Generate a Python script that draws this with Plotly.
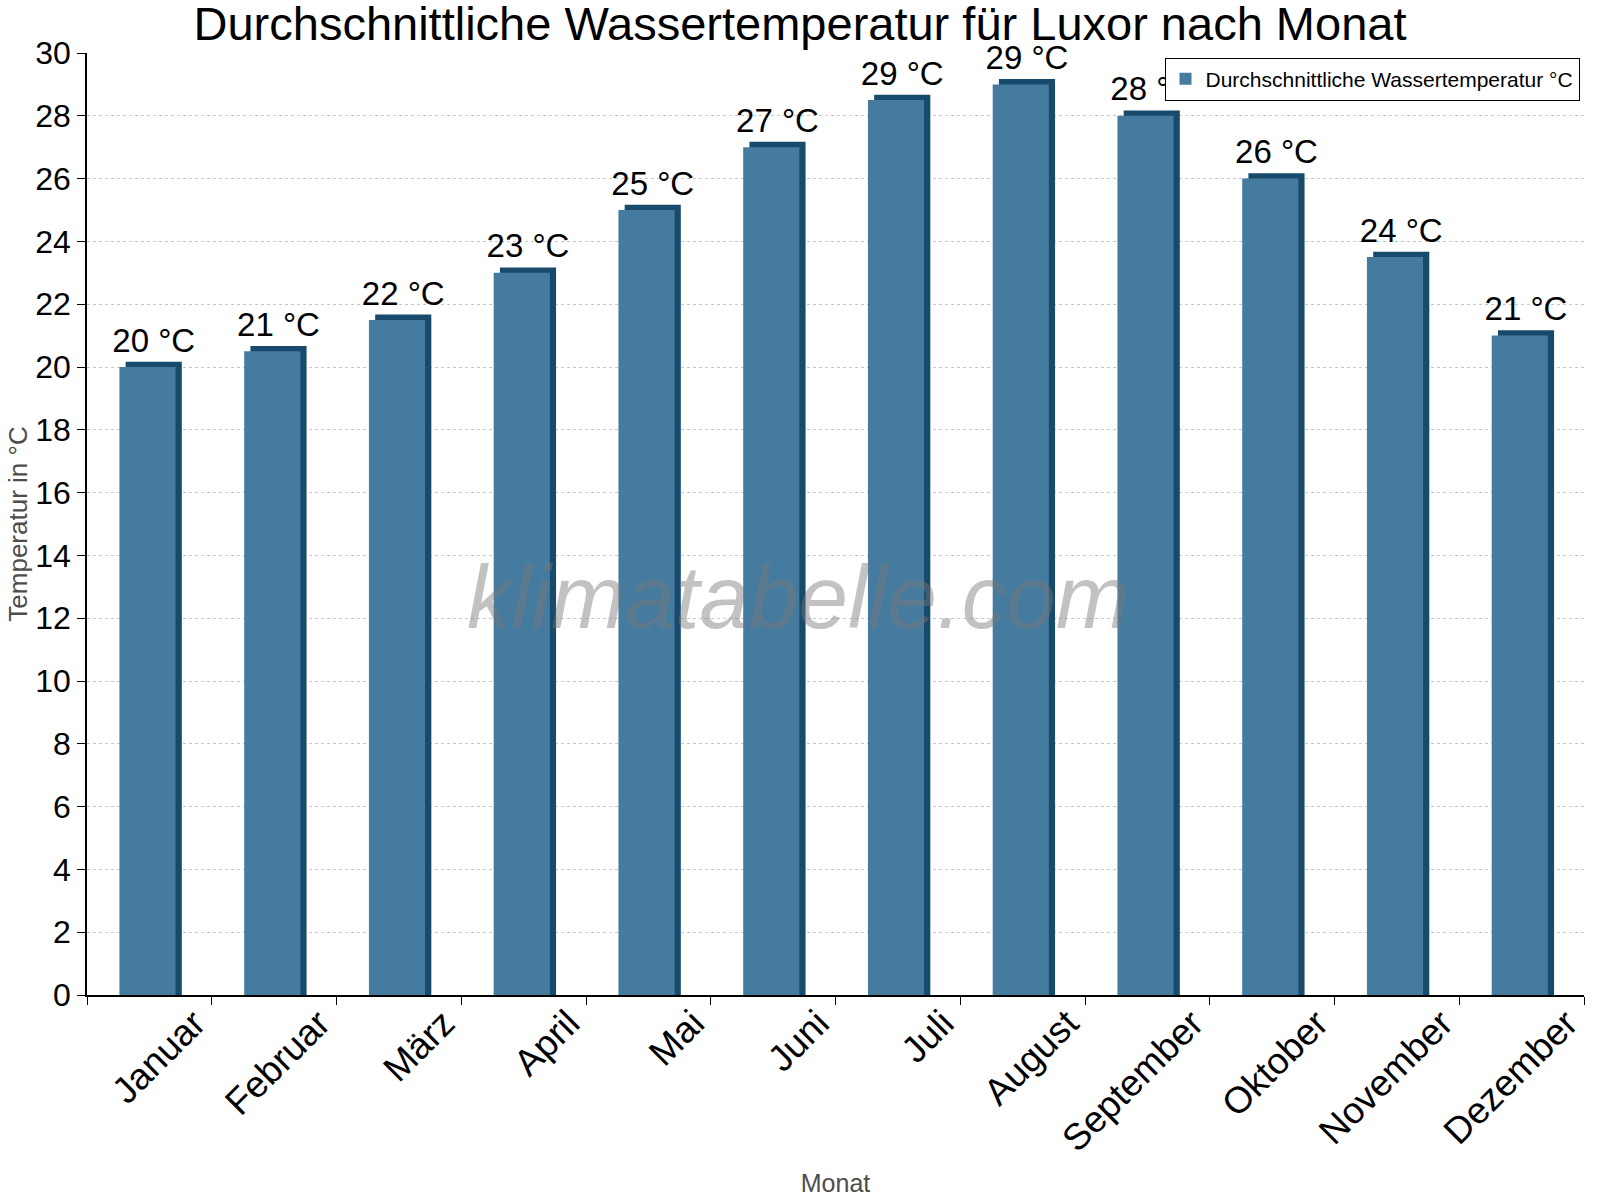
import plotly.graph_objects as go

months = ["Januar", "Februar", "März", "April", "Mai", "Juni", "Juli",
          "August", "September", "Oktober", "November", "Dezember"]
water_temp = [20, 20.5, 21.5, 23, 25, 27, 28.5, 29, 28, 26, 23.5, 21]
labels = ["20 °C", "21 °C", "22 °C", "23 °C", "25 °C", "27 °C", "29 °C",
          "29 °C", "28 °C", "26 °C", "24 °C", "21 °C"]

front = "#467ba0"
dark = "#184a6b"
depth = 0.17  # faux 3d top in data units

fig = go.Figure()

# dark "side/top" bar behind the front face
fig.add_trace(go.Bar(
    x=months,
    y=[v + depth for v in water_temp],
    width=0.45,
    offset=-0.19,
    marker=dict(color=dark, line=dict(width=0)),
    text=labels,
    textposition="outside",
    constraintext="none",
    textfont=dict(size=33, color="black"),
    cliponaxis=False,
    showlegend=False,
    hoverinfo="skip",
))

fig.add_trace(go.Bar(
    x=months,
    y=water_temp,
    width=0.45,
    offset=-0.24,
    marker=dict(color=front, line=dict(width=0)),
    name="Durchschnittliche Wassertemperatur °C",
))

fig.update_layout(
    barmode="overlay",
    width=1600,
    height=1200,
    paper_bgcolor="white",
    plot_bgcolor="white",
    font=dict(family="Liberation Sans, Arial, sans-serif", color="black"),
    margin=dict(l=87, r=16, t=53, b=205),
    title=dict(
        text="Durchschnittliche Wassertemperatur für Luxor nach Monat",
        font=dict(size=47),
        x=0.5, xanchor="center",
        y=0.98, yanchor="middle",
    ),
    legend=dict(
        x=0.997, xanchor="right",
        y=0.995, yanchor="top",
        bordercolor="black", borderwidth=1,
        bgcolor="white",
        font=dict(size=21),
    ),
    annotations=[dict(
        text="<i>klimatabelle.com</i>",
        xref="paper", yref="paper",
        x=0.4756, y=0.4225,
        showarrow=False,
        font=dict(size=89, color="rgba(120,120,120,0.45)"),
    )],
)

fig.update_xaxes(
    automargin=False,
    tickson="boundaries",
    ticks="outside",
    ticklen=8,
    tickcolor="black",
    showline=True,
    linecolor="black",
    linewidth=1.5,
    tickangle=-45,
    ticklabelshift=45,
    ticklabelstandoff=-10,
    tickfont=dict(size=37),
    title=dict(text="Monat", font=dict(size=25, color="#4d4d4d"), standoff=16),
    showgrid=False,
)

fig.update_yaxes(
    automargin=False,
    range=[0, 30],
    dtick=2,
    ticks="outside",
    ticklen=8,
    tickcolor="black",
    showline=True,
    linecolor="black",
    linewidth=1.5,
    tickfont=dict(size=32),
    title=dict(text="Temperatur in °C", font=dict(size=26, color="#4d4d4d"), standoff=0),
    showgrid=True,
    gridcolor="#c8c8c8",
    griddash="dot",
    zeroline=False,
)

# drop the default page margin so the figure sits at the window's corner
fig.write_html("out.html", config={"displayModeBar": False},
               post_script="document.body.style.margin='0';")
